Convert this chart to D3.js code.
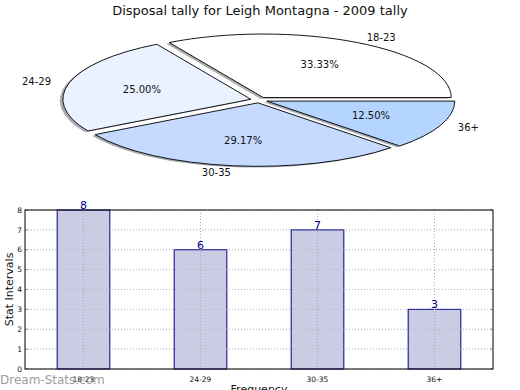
<!DOCTYPE html>
<html>
<head>
<meta charset="utf-8">
<script src="https://cdn.jsdelivr.net/npm/d3@7"></script>
<style>
  body { margin: 0; background: #fff; }
  svg { display: block; font-family: "DejaVu Sans", sans-serif; }
</style>
</head>
<body>
<svg id="chart" width="520" height="390"></svg>
<script>
// data
const categories = ['18-23', '24-29', '30-35', '36+'];
const tally = [8, 6, 7, 3];
const pieColors = ['#ffffff', '#eaf1ff', '#c6d9ff', '#b4d5ff'];
const yTicks = [0, 1, 2, 3, 4, 5, 6, 7, 8];

const title = 'Disposal tally for Leigh Montagna - 2009 tally';

const svg = d3.select('#chart');

svg.append('text')
    .attr('x', 260)
    .attr('y', 15)
    .attr('text-anchor', 'middle')
    .attr('font-size', 13)
    .attr('fill', '#111')
    .text(title);

// ---------- pie (squashed, exploded, shadowed) ----------
function drawPie() {
    const cx = 259, cy = 100, rx = 188, ry = 63.5;
    const explode = 0.045;

    const pie = d3.pie().sort(null).startAngle(0).endAngle(2 * Math.PI);
    const arcs = pie(tally);
    const total = d3.sum(tally);

    // angles are counter-clockwise from 3 o'clock, like matplotlib
    const pt = (c, r, a) => [c[0] + r * rx * Math.cos(a), c[1] - r * ry * Math.sin(a)];

    const wedges = arcs.map((d, i) => {
        const mid = (d.startAngle + d.endAngle) / 2;
        const c = [cx + explode * rx * Math.cos(mid), cy - explode * ry * Math.sin(mid)];
        const p0 = pt(c, 1, d.startAngle);
        const p1 = pt(c, 1, d.endAngle);
        const large = (d.endAngle - d.startAngle) > Math.PI ? 1 : 0;
        const path = `M${c[0]},${c[1]}L${p0[0]},${p0[1]}A${rx},${ry} 0 ${large} 0 ${p1[0]},${p1[1]}Z`;
        return { d, i, mid, c, path };
    });

    const g = svg.append('g');

    // shadows first, behind every wedge
    g.selectAll('.shadow')
        .data(wedges)
        .join('path')
        .attr('class', 'shadow')
        .attr('d', w => w.path)
        .attr('transform', `translate(${-0.016 * rx}, ${0.02 * ry})`)
        .attr('fill', w => {
            const c = d3.rgb(pieColors[w.i]);
            return d3.rgb(c.r * 0.3, c.g * 0.3, c.b * 0.3);
        })
        .attr('opacity', 0.45);

    g.selectAll('.wedge')
        .data(wedges)
        .join('path')
        .attr('class', 'wedge')
        .attr('d', w => w.path)
        .attr('fill', w => pieColors[w.i])
        .attr('stroke', '#000')
        .attr('stroke-width', 0.9)
        .attr('stroke-linejoin', 'round');

    g.selectAll('.plabel')
        .data(wedges)
        .join('text')
        .attr('class', 'plabel')
        .attr('x', w => pt(w.c, 1.1, w.mid)[0])
        .attr('y', w => pt(w.c, 1.1, w.mid)[1])
        .attr('dy', '0.36em')
        .attr('text-anchor', w => Math.cos(w.mid) > 0 ? 'start' : 'end')
        .attr('font-size', 10)
        .attr('fill', '#111')
        .text(w => categories[w.i]);

    g.selectAll('.pct')
        .data(wedges)
        .join('text')
        .attr('class', 'pct')
        .attr('x', w => pt(w.c, 0.6, w.mid)[0])
        .attr('y', w => pt(w.c, 0.6, w.mid)[1])
        .attr('dy', '0.36em')
        .attr('text-anchor', 'middle')
        .attr('font-size', 10)
        .attr('fill', '#111')
        .text(w => (100 * tally[w.i] / total).toFixed(2) + '%');
}

// ---------- bar chart ----------
function drawBars() {
    const left = 25, right = 493, top = 210, bottom = 369;

    const xscale = d3.scaleBand()
        .domain(categories)
        .range([left, right])
        .paddingInner(0.55)
        .paddingOuter(0.275);

    const yscale = d3.scaleLinear()
        .domain([0, 8])
        .range([bottom, top]);

    const g = svg.append('g');

    // grid
    g.selectAll('.hgrid')
        .data(yTicks)
        .join('line')
        .attr('x1', left).attr('x2', right)
        .attr('y1', d => yscale(d)).attr('y2', d => yscale(d))
        .attr('stroke', '#c4c4c4')
        .attr('stroke-width', 1)
        .attr('stroke-dasharray', '1,2');

    g.selectAll('.vgrid')
        .data(categories)
        .join('line')
        .attr('x1', d => xscale(d) + xscale.bandwidth() / 2)
        .attr('x2', d => xscale(d) + xscale.bandwidth() / 2)
        .attr('y1', top).attr('y2', bottom)
        .attr('stroke', '#c4c4c4')
        .attr('stroke-width', 1)
        .attr('stroke-dasharray', '1,2');

    // bars
    g.selectAll('.bar')
        .data(tally)
        .join('rect')
        .attr('class', 'bar')
        .attr('x', (d, i) => xscale(categories[i]))
        .attr('y', d => yscale(d))
        .attr('width', xscale.bandwidth())
        .attr('height', d => bottom - yscale(d))
        .attr('fill', '#cbcbe4')
        .attr('stroke', '#00008b')
        .attr('stroke-width', 1);

    // grid shows through the bars
    g.selectAll('.vgrid2')
        .data(categories)
        .join('line')
        .attr('x1', d => xscale(d) + xscale.bandwidth() / 2)
        .attr('x2', d => xscale(d) + xscale.bandwidth() / 2)
        .attr('y1', top).attr('y2', bottom)
        .attr('stroke', '#a8a8b4')
        .attr('stroke-width', 1)
        .attr('stroke-dasharray', '1,2');

    g.selectAll('.hgrid2')
        .data(yTicks)
        .join('line')
        .attr('x1', left).attr('x2', right)
        .attr('y1', d => yscale(d)).attr('y2', d => yscale(d))
        .attr('stroke', '#a8a8b4')
        .attr('stroke-width', 1)
        .attr('stroke-dasharray', '1,2')
        .attr('opacity', 0.5);

    // value labels
    g.selectAll('.val')
        .data(tally)
        .join('text')
        .attr('x', (d, i) => xscale(categories[i]) + xscale.bandwidth() / 2)
        .attr('y', d => yscale(d) - 1)
        .attr('text-anchor', 'middle')
        .attr('font-size', 11)
        .attr('fill', '#00008b')
        .text(d => d);

    // small inner ticks
    g.selectAll('.ytickL')
        .data(yTicks)
        .join('line')
        .attr('x1', left).attr('x2', left + 3)
        .attr('y1', d => yscale(d)).attr('y2', d => yscale(d))
        .attr('stroke', '#999');
    g.selectAll('.ytickR')
        .data(yTicks)
        .join('line')
        .attr('x1', right - 3).attr('x2', right)
        .attr('y1', d => yscale(d)).attr('y2', d => yscale(d))
        .attr('stroke', '#999');

    // frame
    g.append('rect')
        .attr('x', left).attr('y', top)
        .attr('width', right - left).attr('height', bottom - top)
        .attr('fill', 'none')
        .attr('stroke', '#000')
        .attr('stroke-width', 1);

    // tick labels
    g.selectAll('.ylab')
        .data(yTicks)
        .join('text')
        .attr('x', left - 3)
        .attr('y', d => yscale(d))
        .attr('dy', '0.35em')
        .attr('text-anchor', 'end')
        .attr('font-size', 7.5)
        .attr('fill', '#111')
        .text(d => d);

    g.selectAll('.xlab')
        .data(categories)
        .join('text')
        .attr('x', d => xscale(d) + xscale.bandwidth() / 2)
        .attr('y', 382)
        .attr('text-anchor', 'middle')
        .attr('font-size', 7.5)
        .attr('fill', '#111')
        .text(d => d);

    g.append('text')
        .attr('transform', `translate(13, ${(top + bottom) / 2}) rotate(-90)`)
        .attr('text-anchor', 'middle')
        .attr('font-size', 11)
        .attr('fill', '#111')
        .text('Stat Intervals');

    g.append('text')
        .attr('x', (left + right) / 2)
        .attr('y', 393)
        .attr('text-anchor', 'middle')
        .attr('font-size', 11)
        .attr('fill', '#111')
        .text('Frequency');

    // watermark
    svg.append('text')
        .attr('x', 0)
        .attr('y', 384)
        .attr('font-size', 12)
        .attr('fill', '#8c8c8c')
        .attr('opacity', 0.85)
        .text('Dream-Stats.com');
}

drawPie();
drawBars();
</script>
</body>
</html>
